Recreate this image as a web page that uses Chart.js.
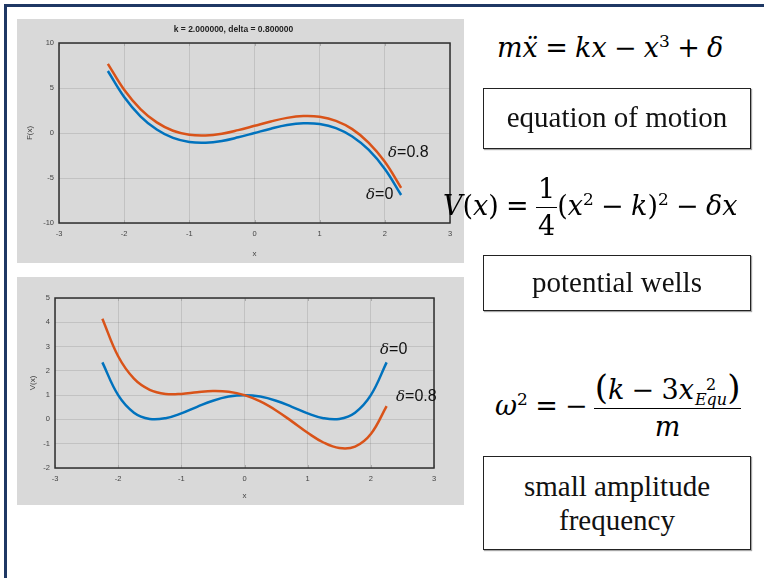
<!DOCTYPE html>
<html>
<head>
<meta charset="utf-8">
<script src="https://cdn.jsdelivr.net/npm/chart.js@4"></script>
<style>
  body { margin: 0; width: 764px; height: 578px; background: #fff; position: relative; overflow: hidden; }
  .frameTop { position: absolute; left: 4px; top: 4px; width: 760px; height: 3px; background: #1f3864; }
  .frameLeft { position: absolute; left: 4px; top: 4px; width: 3px; height: 574px; background: #1f3864; }
  .panel { position: absolute; background: #d9d9d9; }
  .panel canvas { position: absolute; left: 0; top: 0; }
  .tag { position: absolute; font-family: 'Liberation Sans', sans-serif; font-size: 16px; color: #111; white-space: nowrap; }
  .tag i { font-family: 'DejaVu Serif', serif; font-style: italic; font-size: 15px; }
  .eq { position: absolute; font-family: 'DejaVu Serif', serif; color: #000; white-space: nowrap; }
  .eq i { font-style: italic; }
  .eq sup { line-height: 0; }
  .eq .op { margin: 0 0.27em; }
  .frac { display: inline-flex; flex-direction: column; align-items: stretch; text-align: center; vertical-align: middle; }
  .frac .num { border-bottom: 1.6px solid #000; padding: 0 2px; }
  .box { position: absolute; border: 1.5px solid #222; box-shadow: 1px 1px 1px rgba(0,0,0,0.35);
         font-family: 'Liberation Serif', 'Times New Roman', serif; font-size: 29px; text-align: center; color: #111; box-sizing: border-box; }
</style>
</head>
<body>
<div class="frameTop"></div>
<div class="frameLeft"></div>

<div class="panel" style="left:17px;top:19px;width:447px;height:244px;">
  <canvas id="forceChart" width="447" height="244"></canvas>
  <div class="tag" style="left:371px;top:124px;"><i>δ</i>=0.8</div>
  <div class="tag" style="left:349px;top:166px;"><i>δ</i>=0</div>
</div>

<div class="panel" style="left:17px;top:277px;width:447px;height:228px;">
  <canvas id="potentialChart" width="447" height="228"></canvas>
  <div class="tag" style="left:363px;top:63px;"><i>δ</i>=0</div>
  <div class="tag" style="left:379px;top:110px;"><i>δ</i>=0.8</div>
</div>

<div class="eq" style="left:497px;top:31px;font-size:27px;line-height:34px;">
  <i>m</i><i>x&#776;</i><span class="op">=</span><i>kx</i><span class="op">−</span><i>x</i><sup style="font-size:17px">3</sup><span class="op">+</span><i>δ</i>
</div>
<div class="box" style="left:483px;top:88px;width:268px;height:61px;line-height:56px;">equation of motion</div>

<div class="eq" style="left:443px;top:171px;font-size:27px;line-height:34px;">
  <i>V</i>(<i>x</i>)<span class="op">=</span><span class="frac"><span class="num" style="line-height:36px;">1</span><span style="line-height:36px;">4</span></span>(<i>x</i><sup style="font-size:17px">2</sup><span class="op">−</span><i>k</i>)<sup style="font-size:17px">2</sup><span class="op">−</span><i>δx</i>
</div>
<div class="box" style="left:483px;top:255px;width:268px;height:56px;line-height:53px;">potential wells</div>

<div class="eq" style="left:495px;top:369px;font-size:27px;line-height:36px;">
  <i>ω</i><sup style="font-size:17px">2</sup><span class="op">=</span>−<span class="frac" style="margin-left:6px;"><span class="num" style="line-height:36px;padding:0 1px;"><span style="font-size:34px;">(</span><i>k</i><span class="op">−</span>3<i>x</i><span style="display:inline-flex;flex-direction:column;vertical-align:middle;font-size:16px;line-height:15px;margin-left:1px;"><span>2</span><i>Equ</i></span><span style="font-size:34px;">)</span></span><span style="line-height:36px;"><i>m</i></span></span>
</div>
<div class="box" style="left:483px;top:456px;width:268px;height:94px;line-height:34px;padding-top:12px;">small amplitude<br>frequency</div>

<script>
// положения по x для обеих кривых
const xValues = [-2.25, -2, -1.75, -1.5, -1.25, -1, -0.75, -0.5, -0.25, 0, 0.25, 0.5, 0.75, 1, 1.25, 1.5, 1.75, 2, 2.25];

// F(x), k = 2
const forceDelta0 = [6.89, 4, 1.86, 0.38, -0.55, -1, -1.08, -0.88, -0.48, 0, 0.48, 0.88, 1.08, 1, 0.55, -0.38, -1.86, -4, -6.89];
const forceDelta08 = [7.69, 4.8, 2.66, 1.18, 0.25, -0.2, -0.28, -0.08, 0.32, 0.8, 1.28, 1.68, 1.88, 1.8, 1.35, 0.43, -1.06, -3.2, -6.09];

// V(x), k = 2
const potentialDelta0 = [2.35, 1, 0.28, 0.02, 0.05, 0.25, 0.52, 0.77, 0.94, 1, 0.94, 0.77, 0.52, 0.25, 0.05, 0.02, 0.28, 1, 2.35];
const potentialDelta08 = [4.15, 2.6, 1.68, 1.22, 1.05, 1.05, 1.12, 1.17, 1.14, 1, 0.74, 0.37, -0.08, -0.55, -0.95, -1.18, -1.12, -0.6, 0.55];

const xTicks = [-3, -2, -1, 0, 1, 2, 3];
const forceTicks = [-10, -5, 0, 5, 10];
const potentialTicks = [-2, -1, 0, 1, 2, 3, 4, 5];

const plotTitle = 'k = 2.000000, delta = 0.800000';
const blue = '#0072bd';
const orange = '#d95319';

function toPoints(ys) {
    return ys.map((y, i) => ({ x: xValues[i], y: y }));
}

// рамка вокруг области графика и внутренние засечки
const boxFrame = {
    id: 'boxFrame',
    afterDatasetsDraw(chart) {
        const { ctx, chartArea: a, scales } = chart;
        ctx.save();
        ctx.strokeStyle = '#a9a9a9';
        ctx.lineWidth = 1;
        scales.x.ticks.forEach(t => {
            const px = Math.round(scales.x.getPixelForValue(t.value)) + 0.5;
            ctx.beginPath();
            ctx.moveTo(px, a.top); ctx.lineTo(px, a.top + 3);
            ctx.moveTo(px, a.bottom); ctx.lineTo(px, a.bottom - 3);
            ctx.stroke();
        });
        ctx.strokeStyle = '#2e2e2e';
        ctx.lineWidth = 1.5;
        ctx.strokeRect(a.left, a.top, a.right - a.left, a.bottom - a.top);
        ctx.restore();
    }
};

function makeChart(id, series, yTicks, yLabel, opts) {
    const ctx = document.getElementById(id).getContext('2d');
    return new Chart(ctx, {
        type: 'line',
        data: {
            datasets: [
                { data: toPoints(series[1]), borderColor: orange, borderWidth: 2.5, pointRadius: 0, tension: 0.4, fill: false },
                { data: toPoints(series[0]), borderColor: blue, borderWidth: 2.5, pointRadius: 0, tension: 0.4, fill: false }
            ]
        },
        options: {
            responsive: false,
            animation: false,
            layout: { padding: opts.padding },
            plugins: {
                legend: { display: false },
                tooltip: { enabled: false },
                title: opts.title
            },
            scales: {
                x: {
                    type: 'linear',
                    min: xTicks[0],
                    max: xTicks[xTicks.length - 1],
                    afterBuildTicks: s => { s.ticks = xTicks.map(v => ({ value: v })); },
                    afterFit: s => { s.height = opts.xHeight; },
                    grid: { color: 'rgba(0,0,0,0.1)', drawTicks: false },
                    border: { display: false },
                    ticks: { font: { family: 'Liberation Sans', size: 7.5 }, color: '#444', padding: 6 },
                    title: { display: true, text: 'x', font: { family: 'Liberation Sans', size: 8 }, color: '#444', padding: { top: 0 } }
                },
                y: {
                    min: yTicks[0],
                    max: yTicks[yTicks.length - 1],
                    afterBuildTicks: s => { s.ticks = yTicks.map(v => ({ value: v })); },
                    afterFit: s => { s.width = opts.yWidth; },
                    grid: { color: 'rgba(0,0,0,0.1)', drawTicks: false },
                    border: { display: false },
                    ticks: { font: { family: 'Liberation Sans', size: 7.5 }, color: '#444', padding: 5 },
                    title: { display: true, text: yLabel, font: { family: 'Liberation Sans', size: 8 }, color: '#444', padding: { top: opts.yTitlePad, bottom: 0 } }
                }
            }
        },
        plugins: [boxFrame]
    });
}

makeChart('forceChart', [forceDelta0, forceDelta08], forceTicks, 'F(x)', {
    padding: { left: 0, right: 14, top: 0, bottom: 0 },
    xHeight: 40,
    yWidth: 42,
    yTitlePad: 8,
    title: { display: true, text: plotTitle, font: { family: 'Liberation Sans', size: 8.5, weight: 'bold' }, color: '#222', padding: { top: 6, bottom: 7.8 } }
});

makeChart('potentialChart', [potentialDelta0, potentialDelta08], potentialTicks, 'V(x)', {
    padding: { left: 0, right: 30, top: 21, bottom: 0 },
    xHeight: 37,
    yWidth: 38,
    yTitlePad: 11,
    title: { display: false }
});
</script>
</body>
</html>
